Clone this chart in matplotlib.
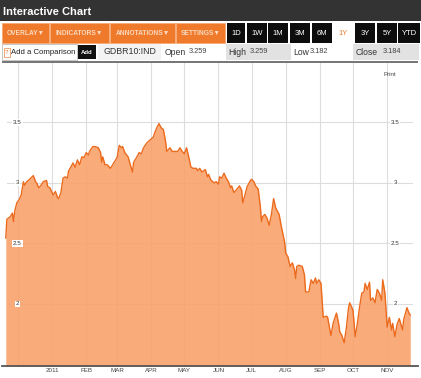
import matplotlib
matplotlib.use('Agg')
import matplotlib.pyplot as plt
import pandas as pd
from matplotlib.patches import Rectangle

plt.rcParams['font.family'] = ['Liberation Sans', 'DejaVu Sans']

W, H = 421, 378

# GDBR10:IND yield
dates = [
    '2010-11-20', '2010-11-21', '2010-11-24', '2010-11-26', '2010-11-27', '2010-11-28',
    '2010-11-30', '2010-12-02', '2010-12-04', '2010-12-06', '2010-12-07', '2010-12-09',
    '2010-12-11', '2010-12-15', '2010-12-17', '2010-12-18', '2010-12-20', '2010-12-22',
    '2010-12-24', '2010-12-27', '2010-12-28', '2010-12-30',
    '2011-01-02', '2011-01-04', '2011-01-06', '2011-01-07', '2011-01-09', '2011-01-11',
    '2011-01-13', '2011-01-15', '2011-01-16', '2011-01-18', '2011-01-20', '2011-01-22',
    '2011-01-24', '2011-01-26', '2011-01-28', '2011-01-30', '2011-02-01', '2011-02-03',
    '2011-02-04', '2011-02-07', '2011-02-09', '2011-02-12', '2011-02-14', '2011-02-15',
    '2011-02-16', '2011-02-18', '2011-02-20', '2011-02-23', '2011-02-25', '2011-03-01',
    '2011-03-03', '2011-03-05', '2011-03-06', '2011-03-08', '2011-03-11', '2011-03-13',
    '2011-03-15', '2011-03-16', '2011-03-19', '2011-03-21', '2011-03-23', '2011-03-25',
    '2011-03-28', '2011-03-31', '2011-04-03', '2011-04-04', '2011-04-06', '2011-04-08',
    '2011-04-10', '2011-04-12', '2011-04-14', '2011-04-15', '2011-04-18', '2011-04-20',
    '2011-04-23', '2011-04-25', '2011-04-27', '2011-04-29', '2011-05-01', '2011-05-03',
    '2011-05-05', '2011-05-07', '2011-05-09', '2011-05-12', '2011-05-13', '2011-05-15',
    '2011-05-17', '2011-05-20', '2011-05-22', '2011-05-23', '2011-05-25', '2011-05-28',
    '2011-05-30', '2011-06-01', '2011-06-02', '2011-06-04', '2011-06-06', '2011-06-08',
    '2011-06-10', '2011-06-12', '2011-06-13', '2011-06-15', '2011-06-17', '2011-06-20',
    '2011-06-22', '2011-06-23', '2011-06-25', '2011-06-27', '2011-06-30', '2011-07-01',
    '2011-07-03', '2011-07-05', '2011-07-07', '2011-07-09', '2011-07-10', '2011-07-11',
    '2011-07-13', '2011-07-15', '2011-07-17', '2011-07-19', '2011-07-21', '2011-07-23',
    '2011-07-26', '2011-07-28', '2011-07-31', '2011-08-01', '2011-08-03', '2011-08-05',
    '2011-08-07', '2011-08-09', '2011-08-10', '2011-08-11', '2011-08-13', '2011-08-16',
    '2011-08-18', '2011-08-19', '2011-08-22', '2011-08-24', '2011-08-26', '2011-08-28',
    '2011-08-29', '2011-08-31', '2011-09-02', '2011-09-04', '2011-09-07', '2011-09-08',
    '2011-09-09', '2011-09-11', '2011-09-13', '2011-09-16', '2011-09-18', '2011-09-19',
    '2011-09-21', '2011-09-23', '2011-09-25', '2011-09-27', '2011-09-28', '2011-10-01',
    '2011-10-03', '2011-10-05', '2011-10-07', '2011-10-09', '2011-10-11', '2011-10-12',
    '2011-10-14', '2011-10-16', '2011-10-17', '2011-10-19', '2011-10-21', '2011-10-23',
    '2011-10-25', '2011-10-27', '2011-10-28', '2011-10-30', '2011-11-01', '2011-11-03',
    '2011-11-05', '2011-11-06', '2011-11-08', '2011-11-10', '2011-11-12', '2011-11-15',
    '2011-11-16', '2011-11-19', '2011-11-21', '2011-11-22',
]
values = [
    2.545, 2.70, 2.72, 2.75, 2.68, 2.76,
    2.835, 2.86, 2.90, 3.01, 2.98, 3.01,
    3.025, 3.06, 3.01, 3.00, 2.96, 2.98,
    3.01, 3.02, 2.97, 2.96,
    2.90, 2.93, 2.88, 2.87, 2.92, 3.04,
    3.05, 3.04, 3.10, 3.13, 3.165, 3.13,
    3.19, 3.15, 3.215, 3.21, 3.25, 3.23,
    3.26, 3.30, 3.30, 3.29, 3.25, 3.17,
    3.215, 3.15, 3.15, 3.12, 3.15, 3.21,
    3.31, 3.29, 3.30, 3.25, 3.215, 3.15,
    3.09, 3.17, 3.215, 3.25, 3.24, 3.29,
    3.33, 3.355, 3.38, 3.41, 3.455, 3.49,
    3.455, 3.44, 3.34, 3.26, 3.29, 3.26,
    3.26, 3.26, 3.29, 3.26, 3.24, 3.29,
    3.215, 3.13, 3.12, 3.12, 3.10, 3.12,
    3.09, 3.11, 3.05, 3.07, 3.025, 3.00,
    3.01, 2.99, 3.05, 3.04, 3.08, 3.04,
    3.01, 2.96, 2.975, 2.92, 2.94, 2.975,
    2.94, 2.835, 2.90, 2.97, 3.02, 3.03,
    3.01, 2.97, 2.95, 2.80, 2.68, 2.72,
    2.74, 2.71, 2.65, 2.74, 2.87, 2.79,
    2.74, 2.64, 2.51, 2.42, 2.39, 2.31,
    2.34, 2.28, 2.21, 2.31, 2.32, 2.31,
    2.24, 2.10, 2.10, 2.20, 2.17, 2.215,
    2.17, 2.20, 2.17, 1.89, 1.90, 1.89,
    1.84, 1.74, 1.84, 1.925, 1.84, 1.77,
    1.74, 1.68, 1.80, 1.97, 2.01, 1.95,
    1.73, 1.84, 1.975, 2.09, 2.10, 2.17,
    2.12, 2.18, 2.03, 2.05, 2.01, 2.12,
    2.09, 2.03, 2.20, 2.09, 1.81, 1.89,
    1.785, 1.84, 1.73, 1.83, 1.88, 1.785,
    1.87, 1.97, 1.92, 1.91,
]

month_starts = ['2010-12-01', '2011-01-01', '2011-02-01', '2011-03-01', '2011-04-01',
                '2011-05-01', '2011-06-01', '2011-07-01', '2011-08-01', '2011-09-01',
                '2011-10-01', '2011-11-01']
month_labels = ['', '2011', 'FEB', 'MAR', 'APR', 'MAY', 'JUN', 'JUL', 'AUG', 'SEP', 'OCT', 'NOV']
y_levels = [2, 2.5, 3, 3.5]
y_labels = ['2', '2.5', '3', '3.5']

menu_labels = ['OVERLAY\u25bc', 'INDICATORS\u25bc', 'ANNOTATIONS\u25bc', 'SETTINGS\u25bc']
menu_spans = [(2, 49), (50, 109), (110, 175), (176, 225)]
range_labels = ['1D', '1W', '1M', '3M', '6M', '1Y', '3Y', '5Y', 'YTD']
range_spans = [(227, 245), (247, 267), (268, 288), (290, 310), (312, 332),
               (334, 353), (355, 375), (377, 397), (398, 420)]

# quote fields: label, value, label x, value x
quote_labels = ['Open', 'High', 'Low', 'Close']
quote_values = ['3.259', '3.259', '3.182', '3.184']
quote_xs = [(165, 189), (228, 250), (293, 310), (356, 383)]

orange = '#ef7a2c'

fig = plt.figure(figsize=(W / 100, H / 100), dpi=100)


def fx(x):
    return x / W


def fy(y):
    return 1 - y / H


def rect(x0, y0, x1, y1, **kw):
    fig.add_artist(Rectangle((fx(x0), fy(y1)), (x1 - x0) / W, (y1 - y0) / H,
                             transform=fig.transFigure, **kw))


def txt(x, y, s, **kw):
    kw.setdefault('va', 'center')
    fig.text(fx(x), fy(y), s, **kw)


# title bar
rect(0, 0, W, 21, facecolor='#333333', edgecolor='none')
txt(3, 12, 'Interactive Chart', color='white', fontsize=8, fontweight='bold')

# orange menu + range buttons
for lab, (a, b) in zip(menu_labels, menu_spans):
    rect(a, 23, b, 43, facecolor=orange, edgecolor='#f7a877', lw=0.6)
    txt((a + b) / 2, 33.5, lab, color='#fcd9bf', fontsize=4.8, ha='center', fontweight='bold')
for lab, (a, b) in zip(range_labels, range_spans):
    if lab == '1Y':
        txt((a + b) / 2, 33.5, lab, color=orange, fontsize=5.5, ha='center')
        continue
    rect(a, 23, b, 43, facecolor='#0d0d0d', edgecolor='none')
    txt((a + b) / 2, 33.5, lab, color='white', fontsize=5.5, ha='center')

# info row
rect(2, 44, 77, 60, facecolor='white', edgecolor='#bbbbbb', lw=0.6)
rect(3.5, 48, 9.5, 57, facecolor='white', edgecolor='#f29a60', lw=0.6)
txt(6.5, 52.5, '?', color='#e4772f', fontsize=4.5, ha='center')
txt(11, 52, 'Add a Comparison', color='#222222', fontsize=5.6)
rect(78, 45, 96, 59, facecolor='#111111', edgecolor='none')
txt(87, 52, 'Add', color='white', fontsize=4.3, ha='center', fontweight='bold')
rect(98, 44, 161, 60, facecolor='#f3f3f3', edgecolor='none')
txt(103, 52, 'GDBR10:IND', color='#333333', fontsize=6.3)
rect(226, 44, 291, 60, facecolor='#e2e2e2', edgecolor='none')
rect(353, 44, 419, 60, facecolor='#e2e2e2', edgecolor='none')
for lab, val, (xl, xv) in zip(quote_labels, quote_values, quote_xs):
    txt(xl, 52.5, lab, color='#333333', fontsize=6.2)
    txt(xv, 51.5, val, color='#444444', fontsize=5.3)
rect(2, 61, 418, 63, facecolor='#777777', edgecolor='none')

# chart
ax = fig.add_axes([fx(2), fy(366), 416 / W, (366 - 63) / H])
x = pd.to_datetime(dates)
ms = pd.to_datetime(month_starts)
ybot = 1.488
ax.set_xlim(pd.Timestamp('2010-11-16 14:00'), pd.Timestamp('2011-11-29'))
ax.set_ylim(ybot, 3.99)

for m in ms:
    ax.axvline(m, color='#dddddd', lw=0.8, zorder=0)
for lv in y_levels:
    ax.axhline(lv, xmin=0.012, xmax=0.985, color='#dddddd', lw=0.8, zorder=0)

ax.fill_between(x, values, ybot, color='#f9a068', alpha=0.88, lw=0, zorder=2)
ax.plot(x, values, color='#ec6a1c', lw=1.0, zorder=3)

for lv, lab in zip(y_levels, y_labels):
    for xa in (0.037, 0.945):
        ax.text(xa, lv, lab, transform=ax.get_yaxis_transform(), fontsize=4.5,
                color='#333333', ha='center', va='center', zorder=5,
                bbox=dict(facecolor='white', edgecolor='none', pad=0.6))

ax.set_xticks(ms[1:])
ax.set_xticklabels(month_labels[1:])
ax.tick_params(axis='x', length=0, pad=1.8, labelsize=4.5, labelcolor='#444444')
ax.set_yticks([])
for side in ('left', 'right', 'top'):
    ax.spines[side].set_visible(False)
ax.spines['bottom'].set_color('#555555')
ax.spines['bottom'].set_linewidth(1.3)
ax.set_facecolor('white')

txt(390, 75, 'Print', color='#444444', fontsize=4.5, ha='center')

fig.savefig('out.png', dpi=100)
